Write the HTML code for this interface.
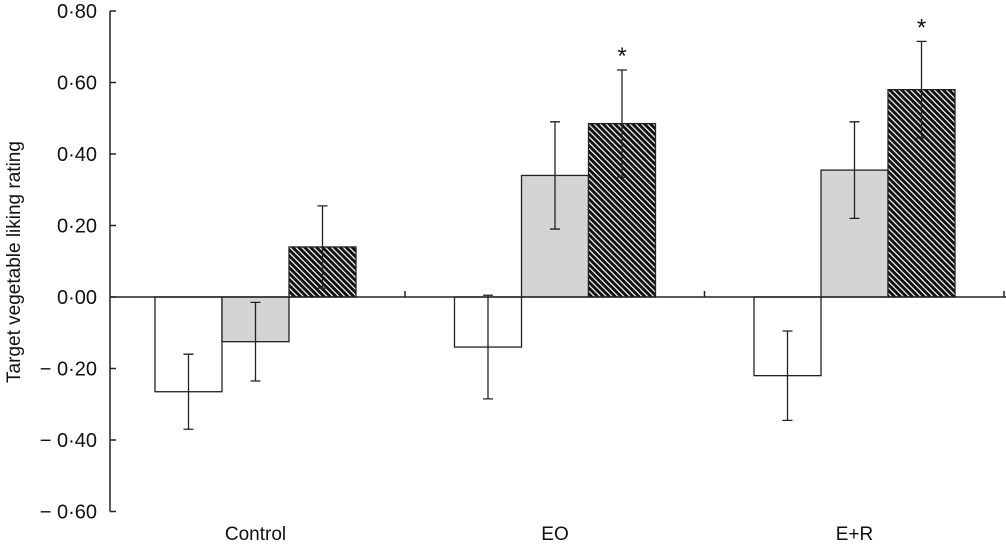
<!DOCTYPE html>
<html><head><meta charset="utf-8"><style>
body{margin:0;background:#fff}
svg text{font-family:"Liberation Sans",sans-serif;fill:#111}
</style></head><body>
<svg width="1006" height="547" viewBox="0 0 1006 547">
<defs>
<pattern id="hatch" patternUnits="userSpaceOnUse" width="4.2" height="4.2" patternTransform="rotate(-45)">
<rect width="4.2" height="4.2" fill="#111"/>
<rect x="0" y="0" width="1.2" height="4.2" fill="#fff"/>
</pattern>
</defs>
<g id="chart"></g>
</svg>
<script>
const categories=["Control","EO","E+R"];
const whiteVals=[-0.265,-0.14,-0.22];
const whiteErr=[0.105,0.145,0.125];
const grayVals=[-0.125,0.34,0.355];
const grayErr=[0.11,0.15,0.135];
const hatchVals=[0.14,0.485,0.58];
const hatchErr=[0.115,0.15,0.135];
const stars=[false,true,true];
const yTicks=[0.8,0.6,0.4,0.2,0,-0.2,-0.4,-0.6];
const yTickLabels=["0·80","0·60","0·40","0·20","0·00","\u2212 0·20","\u2212 0·40","\u2212 0·60"];

const NS="http://www.w3.org/2000/svg";
const g=document.getElementById("chart");
function y(v){return 297-v*357.5;}
function x(i){return 155+i*299.5;}
const bw=67;
function el(t,a,p){const e=document.createElementNS(NS,t);for(const k in a)e.setAttribute(k,a[k]);(p||g).appendChild(e);return e;}

const yAxis=el("line",{x1:110,y1:y(0.8),x2:110,y2:y(-0.6),stroke:"#222","stroke-width":1.5});


yTicks.forEach((v,i)=>{
  const t=el("line",{x1:110,y1:y(v),x2:116,y2:y(v),stroke:"#222","stroke-width":1.5});
  
  
  const l=el("text",{x:97,y:y(v)+7,"text-anchor":"end","font-size":20});
  l.textContent=yTickLabels[i];
  
  
});
const yt=el("text",{x:0,y:0,"text-anchor":"middle","font-size":19,transform:"translate(20,262) rotate(-90)"});
yt.textContent="Target vegetable liking rating";



function bar(cx,v,e,fill,name){
  const top=Math.min(y(v),y(0)),h=Math.abs(y(v)-y(0));
  const r=el("rect",{x:cx,y:top,width:bw,height:h,fill:fill,stroke:"#222","stroke-width":1.3});
  
  
  const m=cx+bw/2;
  const eb=el("path",{d:`M${m},${y(v+e)}V${y(v-e)}M${m-5},${y(v+e)}H${m+5}M${m-5},${y(v-e)}H${m+5}`,stroke:"#222","stroke-width":1.3,fill:"none"});
  
  
}
categories.forEach((c,i)=>{
  const x0=x(i);
  bar(x0,whiteVals[i],whiteErr[i],"#fff","bar-white-"+c.toLowerCase());
  bar(x0+bw,grayVals[i],grayErr[i],"#d4d4d4","bar-gray-"+c.toLowerCase());
  bar(x0+2*bw,hatchVals[i],hatchErr[i],"url(#hatch)","bar-hatched-"+c.toLowerCase());
  if(stars[i]){
    const s=el("text",{x:x0+2.5*bw,y:y(hatchVals[i]+hatchErr[i])-6,"text-anchor":"middle","font-size":24});
    s.textContent="*";
    
    
  }
  const l=el("text",{x:x0+1.5*bw,y:540,"text-anchor":"middle","font-size":19});
  l.textContent=c;
  
  
  const tk=el("line",{x1:x0+3*bw+49,y1:y(0),x2:x0+3*bw+49,y2:y(0)-6,stroke:"#222","stroke-width":1.5});
  
  
});
const xAxis=el("line",{x1:110,y1:y(0),x2:1006,y2:y(0),stroke:"#222","stroke-width":1.5});


</script>
</body></html>
